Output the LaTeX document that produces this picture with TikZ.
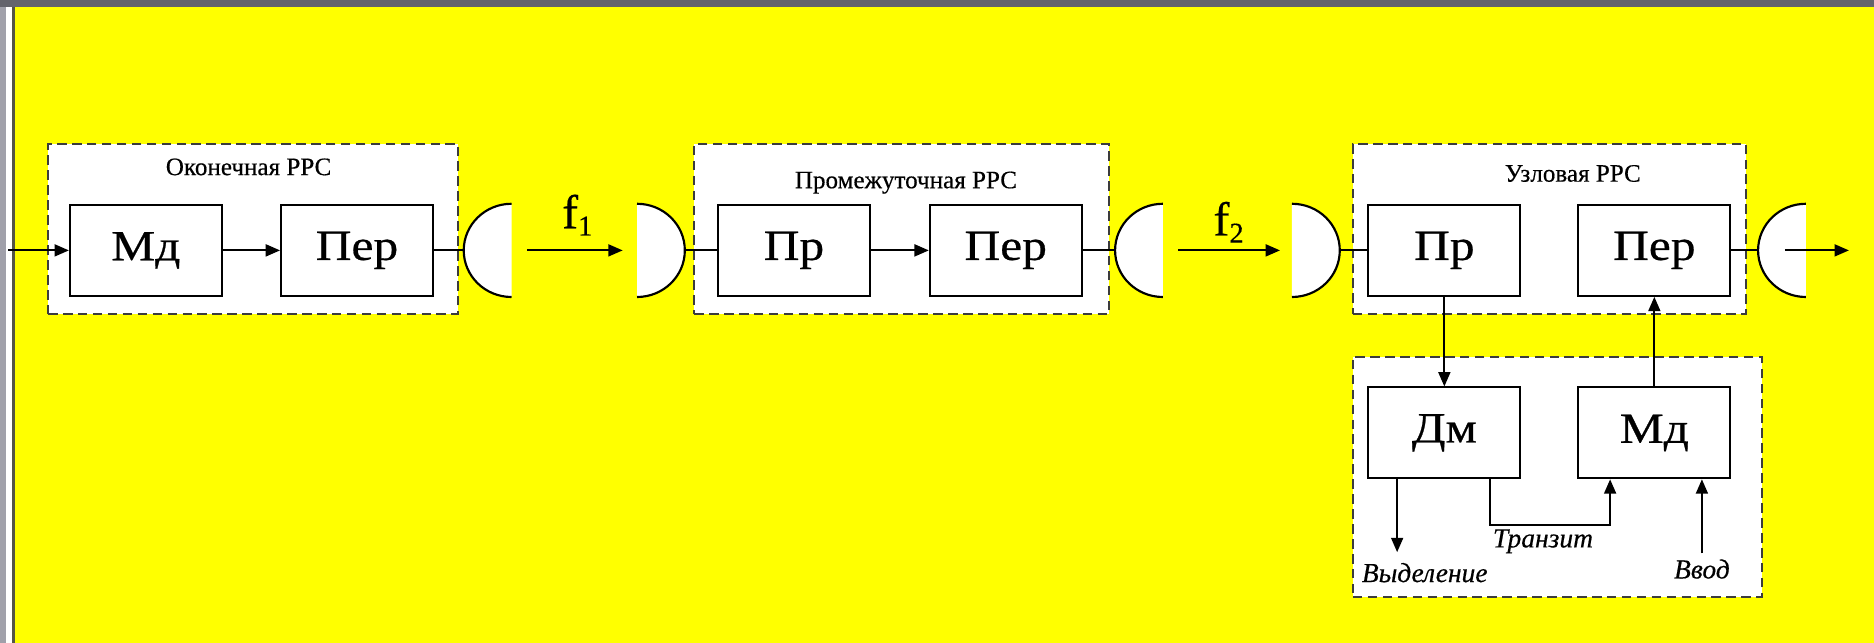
\documentclass[tikz,border=0pt]{standalone}
\usepackage{fontspec}
\setmainfont{Liberation Serif}
\newfontfamily\blkfont[FakeStretch=1.15, FakeBold=0.6]{Liberation Serif}
\newfontfamily\ttlfont[FakeBold=0.4]{Liberation Serif}
\usetikzlibrary{arrows.meta, positioning}
\definecolor{bgyellow}{RGB}{255,255,0}
\definecolor{dashgray}{RGB}{60,60,60}
\definecolor{framegray}{RGB}{100,100,108}
\definecolor{stripgray}{RGB}{160,160,170}
\definecolor{edgedark}{RGB}{85,85,70}

\begin{document}
\begin{tikzpicture}[
        x=1pt, y=-1pt,
        blk/.style={rectangle, draw=black, fill=white, line width=1.7pt, minimum width=127pt, minimum height=76pt, inner sep=0pt, font=\blkfont\fontsize{36}{42}\selectfont},
        grp/.style={rectangle, draw=dashgray, fill=white, line width=1.4pt, dash pattern=on 8pt off 4.5pt, inner sep=0pt},
        ttl/.style={anchor=base, font=\ttlfont\fontsize{21}{25}\selectfont},
        lbl/.style={anchor=base, font=\ttlfont\itshape\fontsize{23}{27}\selectfont},
        flbl/.style={anchor=base, font=\ttlfont\fontsize{40}{48}\selectfont},
        arr/.style={-{Stealth[length=12pt, width=10pt, inset=0pt]}, line width=1.6pt},
        wire/.style={line width=1.6pt},
        ant/.style={line width=1.8pt}
    ]
        \fill[bgyellow] (0,0) rectangle (1568,538);
        \fill[stripgray] (0,0) rectangle (5,538);
        \fill[white] (5,0) rectangle (10,538);
        \fill[edgedark] (10,0) rectangle (12.5,538);
        \fill[framegray] (0,0) rectangle (1568,6);
        \useasboundingbox (0,0) rectangle (1568,538);

        \node[grp, minimum width=343pt, minimum height=142pt] (ork) at (211.7,191.6) {};
        \node[grp, minimum width=347pt, minimum height=142pt] (prm) at (754.3,191.5) {};
        \node[grp, minimum width=329pt, minimum height=142pt] (uzl) at (1296.3,191.5) {};
        \node[grp, minimum width=342pt, minimum height=201pt] (uzlb) at (1303,399) {};

        \node[ttl] (t1) at (208,146.5) {Оконечная РРС};
        \node[ttl] (t2) at (758,157.5) {Промежуточная РРС};
        \node[ttl] (t3) at (1316,152) {Узловая РРС};

        \node[blk] (md1) at (122,209.5) {Мд};
        \node[blk, right=48pt of md1] (per1) {Пер};
        \node[blk] (pr2) at (664.3,209.5) {Пр};
        \node[blk, right=48.5pt of pr2] (per2) {Пер};
        \node[blk] (pr3) at (1208.5,209.5) {Пр};
        \node[blk, right=47pt of pr3] (per3) {Пер};
        \node[blk, below=75pt of pr3] (dm) {Дм};
        \node[blk, below=75pt of per3] (md3) {Мд};

        \foreach \x/\n in {428/a1, 973/a3, 1511/a5} {
            \fill[white] (\x,170.5) arc[start angle=270, end angle=90, x radius=40, y radius=39] -- cycle;
            \draw[ant] (\x,170.5) arc[start angle=270, end angle=90, x radius=40, y radius=39];
            \coordinate (\n) at (\x-40,209.5);
        }
        \foreach \x/\n in {533/a2, 1081/a4} {
            \fill[white] (\x,170.5) arc[start angle=-90, end angle=90, x radius=40, y radius=39] -- cycle;
            \draw[ant] (\x,170.5) arc[start angle=-90, end angle=90, x radius=40, y radius=39];
            \coordinate (\n) at (\x+40,209.5);
        }

        \coordinate (src) at (7,209.5);
        \coordinate (f1s) at (441,209.5);
        \coordinate (f1e) at (521,209.5);
        \coordinate (f2s) at (986,209.5);
        \coordinate (f2e) at (1071,209.5);
        \coordinate (outs) at (1493.5,209.5);
        \coordinate (oute) at (1547,209.5);
        \coordinate (vyd) at (1169,462);
        \coordinate (vvod) at (1424,463);

        \draw[arr] (src) -- (md1);
        \draw[arr] (md1) -- (per1);
        \draw[wire] (per1) -- (a1);
        \draw[arr] (f1s) -- (f1e);
        \draw[wire] (a2) -- (pr2);
        \draw[arr] (pr2) -- (per2);
        \draw[wire] (per2) -- (a3);
        \draw[arr] (f2s) -- (f2e);
        \draw[wire] (a4) -- (pr3);
        \draw[wire] (per3) -- (a5);
        \draw[arr] (outs) -- (oute);

        \draw[arr] (pr3) -- (dm);
        \draw[arr] (md3) -- (per3);
        \draw[arr] (dm.south -| vyd) -- (vyd);
        \draw[arr] ([xshift=38pt]dm.south) -- ++(0,38) -| ([xshift=-37pt]md3.south);
        \draw[arr] (vvod) -- (vvod |- md3.south);

        \node[flbl] (f1) at (483,191) {f\raisebox{-6pt}{\fontsize{24}{28}\selectfont 1}};
        \node[flbl] (f2) at (1028,197) {f\raisebox{-6pt}{\fontsize{24}{28}\selectfont 2}};
        \node[lbl, anchor=base west] (vydl) at (1136,487) {Выделение};
        \node[lbl] (trl) at (1291,458) {Транзит};
        \node[lbl] (vvodl) at (1424,484) {Ввод};
    \end{tikzpicture}
\end{document}
